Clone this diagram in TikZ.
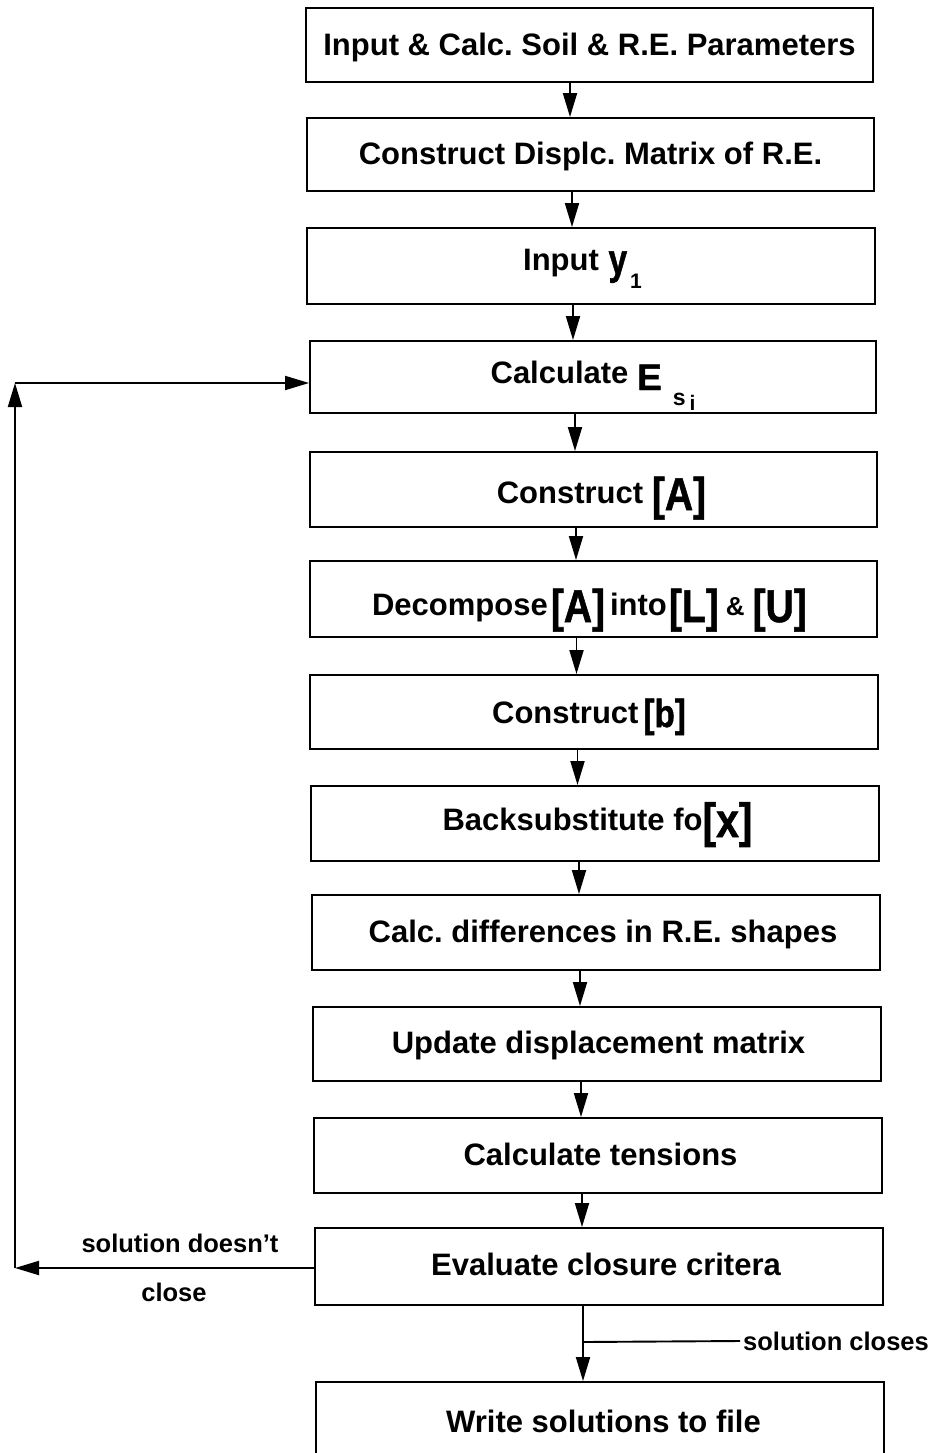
\documentclass[tikz,border=0pt]{standalone}
\usepackage{fontspec}
\usepackage{graphicx}
\setmainfont{Liberation Sans}
\newfontfamily\heavyfont[FakeBold=1.3]{Liberation Sans Bold}
\usetikzlibrary{arrows.meta}
\frenchspacing
\newcommand{\brk}[2][46]{\raisebox{-7pt}{\scalebox{0.85}[1]{\heavyfont\mdseries\fontsize{#1}{#1}\selectfont #2}}}
\newcommand{\szC}[1]{{\fontsize{26}{26}\selectfont #1}}
\begin{document}
\begin{tikzpicture}[x=1pt,y=-1pt,
 box/.style={draw, line width=1.9pt, minimum width=567pt, minimum height=74pt, inner sep=0pt,
   text height=22pt, text depth=0pt, font=\fontsize{31}{31}\selectfont\bfseries},
 arr/.style={line width=1.9pt, -{Triangle[length=24pt,width=14pt]}},
 lbl/.style={font=\fontsize{25.5}{25.5}\selectfont\bfseries, inner sep=0pt}]
\useasboundingbox (0,0) rectangle (931,1453);
\node[box, minimum height=74pt] (b1) at (589.5,45) {Input \& Calc. Soil \& R.E. Parameters};
\node[box, minimum height=73pt] (b2) at (590.5,154.5) {\raisebox{1pt}{Construct Displc. Matrix of R.E.}};
\node[box, minimum height=76pt, minimum width=568pt] (b3) at (591,266) {\raisebox{7pt}{Input \hspace{1pt}\smash{\raisebox{-4pt}{\scalebox{0.78}[1]{\heavyfont\mdseries\fontsize{43}{43}\selectfont y}}}\hspace{3pt}\smash{\raisebox{-18pt}{\fontsize{21}{21}\selectfont 1}}}\hspace*{17pt}};
\node[box, minimum height=72pt, minimum width=566pt] (b4) at (593,377) {\raisebox{5pt}{Calculate \smash{\raisebox{-7pt}{\heavyfont\mdseries\fontsize{37}{37}\selectfont E}}\hspace{11pt}\smash{\raisebox{-22pt}{\fontsize{23}{23}\selectfont s}}\hspace{4pt}\smash{\raisebox{-27pt}{\fontsize{21}{21}\selectfont i}}}};
\node[box, minimum height=75pt] (b5) at (593.5,489.5) {\hspace*{16pt}\raisebox{-2.5pt}{Construct \smash{\brk{[A]}}}};
\node[box, minimum height=76pt] (b6) at (593.5,599) {\raisebox{-5pt}{Decompose\hspace{3pt}\smash{\brk{[A]}}\hspace{5pt}into\hspace{2pt}\smash{\brk{[L]}}\hspace{7pt}\szC{\&}\hspace{8pt}\smash{\brk{[U]}}}\hspace*{8pt}};
\node[box, minimum height=74pt, minimum width=568pt] (b7) at (594,712) {\smash{Construct\hspace{5pt}\raisebox{3pt}{\brk[39]{[b]}}}\hspace*{10pt}};
\node[box, minimum height=75pt, minimum width=568pt] (b8) at (595,823.5) {\hspace*{5pt}\raisebox{4.5pt}{Backsubstitute fo\smash{\brk[48]{[x]}}}};
\node[box, minimum height=75pt, minimum width=568pt] (b9) at (596,932.5) {\hspace*{14pt}\raisebox{1.5pt}{Calc. differences in R.E. shapes}};
\node[box, minimum height=74pt, minimum width=568pt] (b10) at (597,1044) {\hspace*{3pt}\raisebox{2pt}{Update displacement matrix}};
\node[box, minimum height=75pt, minimum width=568pt] (b11) at (598,1155.5) {\hspace*{5pt}\raisebox{1.5pt}{Calculate tensions}};
\node[box, minimum height=77pt, minimum width=568pt] (b12) at (599,1266.5) {\hspace*{14pt}\raisebox{2pt}{Evaluate closure critera}};
\node[box, minimum height=74pt, minimum width=568pt] (b13) at (600,1419) {\hspace*{7pt}\raisebox{-2.5pt}{Write solutions to file}};
% vertical arrows
\draw[arr] ([xshift=-19.5pt]b1.south) -- ([xshift=-19.5pt]b1.south |- b2.north);
\draw[arr] ([xshift=-18.5pt]b2.south) -- ([xshift=-18.5pt]b2.south |- b3.north);
\draw[arr] ([xshift=-18pt]b3.south) -- ([xshift=-18pt]b3.south |- b4.north);
\draw[arr] ([xshift=-18pt]b4.south) -- ([xshift=-18pt]b4.south |- b5.north);
\draw[arr] ([xshift=-17.5pt]b5.south) -- ([xshift=-17.5pt]b5.south |- b6.north);
\draw[arr] ([xshift=-17pt]b6.south) -- ([xshift=-17pt]b6.south |- b7.north);
\draw[arr] ([xshift=-16.5pt]b7.south) -- ([xshift=-16.5pt]b7.south |- b8.north);
\draw[arr] ([xshift=-16pt]b8.south) -- ([xshift=-16pt]b8.south |- b9.north);
\draw[arr] ([xshift=-16pt]b9.south) -- ([xshift=-16pt]b9.south |- b10.north);
\draw[arr] ([xshift=-16pt]b10.south) -- ([xshift=-16pt]b10.south |- b11.north);
\draw[arr] ([xshift=-16pt]b11.south) -- ([xshift=-16pt]b11.south |- b12.north);
\draw[arr] ([xshift=-16pt]b12.south) -- ([xshift=-16pt]b12.south |- b13.north);
% loop back
\coordinate (lb) at (15,1268);
\coordinate (lt) at (15,383);
\draw[arr] (b12.west |- lb) -- (lb);
\draw[arr] (lb) -- (lt);
\draw[arr] (lt) -- (lt -| b4.west);
\node[lbl] (t1) at (180,1243) {solution doesn't};
\node[lbl] (t2) at (174,1292) {close};
% solution closes
\coordinate (sc) at ([xshift=-16pt]b12.south |- 0,1342);
\node[lbl, anchor=west] (t3) at (743,1341) {solution closes};
\draw[line width=1.9pt] (sc) -- ([xshift=-3pt]t3.west);
\end{tikzpicture}
\end{document}
